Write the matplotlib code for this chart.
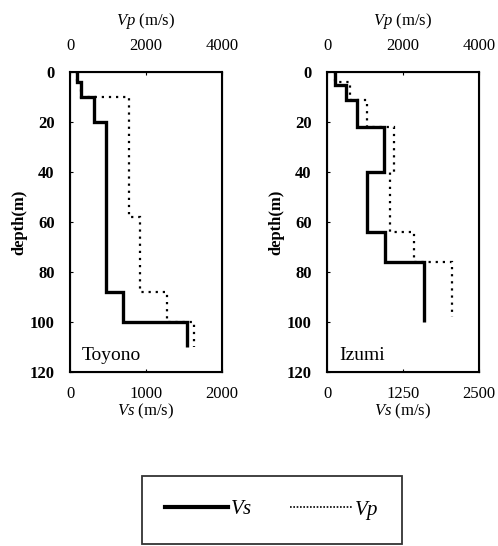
import matplotlib.pyplot as plt
from matplotlib.lines import Line2D

plt.rcParams['font.family'] = ['Liberation Serif', 'DejaVu Serif']
plt.rcParams['mathtext.fontset'] = 'custom'
plt.rcParams['mathtext.it'] = 'Liberation Serif:italic'
plt.rcParams['mathtext.rm'] = 'Liberation Serif'

# Toyono profile
toyono_vs_depth = [0, 4, 10, 20, 88, 100, 110]
toyono_vs = [90, 150, 320, 480, 700, 1540]
toyono_vp_depth = [0, 4, 10, 58, 88, 100, 110]
toyono_vp = [180, 300, 1540, 1850, 2550, 3250]

# Izumi profile
izumi_vs_depth = [0, 5, 11, 22, 40, 64, 76, 100]
izumi_vs = [130, 320, 500, 930, 650, 950, 1600]
izumi_vp_depth = [0, 4, 11, 22, 40, 64, 76, 98]
izumi_vp = [200, 600, 1060, 1770, 1660, 2280, 3280]

sites = ["Toyono", "Izumi"]
vs_ticks = [[0, 1000, 2000], [0, 1250, 2500]]
vp_ticks = [0, 2000, 4000]
depth_ticks = [0, 20, 40, 60, 80, 100, 120]

fig = plt.figure(figsize=(4.98, 5.46), dpi=100)
W, H = 498, 546

profiles = [
    (toyono_vs_depth, toyono_vs, toyono_vp_depth, toyono_vp),
    (izumi_vs_depth, izumi_vs, izumi_vp_depth, izumi_vp),
]
lefts = [70, 327]

for i, (vsd, vs, vpd, vp) in enumerate(profiles):
    ax = fig.add_axes([lefts[i] / W, 1 - 372 / H, 152 / W, 300 / H])
    ax.stairs(vs, vsd, orientation='horizontal', baseline=None,
              color='black', linewidth=2.4)
    ax.set_xlim(vs_ticks[i][0], vs_ticks[i][-1])
    ax.set_ylim(120, 0)
    ax.set_xticks(vs_ticks[i])
    ax.set_yticks(depth_ticks)
    ax.tick_params(direction='in', length=2, labelsize=12)
    ax.tick_params(axis='x', pad=10)
    ax.tick_params(axis='y', pad=11)
    for lab in ax.get_yticklabels():
        lab.set_fontweight('bold')
    ax.set_xlabel(r'$Vs$ (m/s)', fontsize=12, labelpad=0)
    ax.set_ylabel('depth(m)', fontsize=12, fontweight='bold', labelpad=2)
    ax.text(0.08, 0.025, sites[i], transform=ax.transAxes, fontsize=14,
            ha='left', va='bottom')
    for s in ax.spines.values():
        s.set_linewidth(1.5)

    ax2 = ax.twiny()
    ax2.stairs(vp, vpd, orientation='horizontal', baseline=None,
               color='black', linewidth=1.6, linestyle=(0, (1, 2.2)))
    ax2.set_xlim(0, 4000)
    ax2.set_xticks(vp_ticks)
    ax2.tick_params(direction='in', length=2, labelsize=12, pad=13)
    ax2.set_xlabel(r'$Vp$ (m/s)', fontsize=12, labelpad=9)

handles = [
    Line2D([], [], color='black', linewidth=3),
    Line2D([], [], color='black', linewidth=1.2, linestyle=(0, (1, 1))),
]
leg = fig.legend(handles, [r'$Vs$', r'$Vp$'], ncol=2, fontsize=15,
                 loc='center', bbox_to_anchor=(272 / W, 1 - 510 / H),
                 frameon=True, fancybox=False, edgecolor='black',
                 handlelength=3.0, handletextpad=0.1, columnspacing=1.8,
                 borderpad=1.1, borderaxespad=0)
leg.get_frame().set_linewidth(1.3)

fig.savefig('out.png', dpi=100)
